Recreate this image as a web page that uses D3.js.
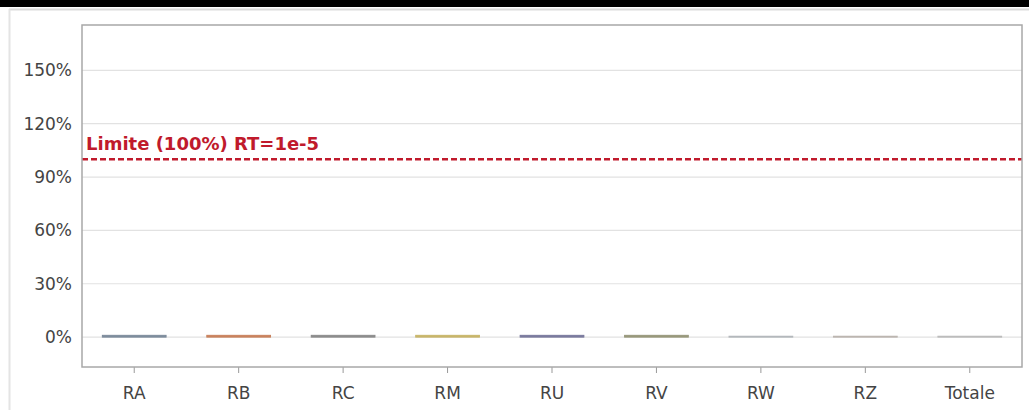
<!DOCTYPE html>
<html>
<head>
<meta charset="utf-8">
<script src="https://cdn.jsdelivr.net/npm/d3@7"></script>
<style>
  body { margin: 0; background: #fff; }
  text { font-family: "DejaVu Sans", sans-serif; }
</style>
</head>
<body>
<div id="chart"></div>
<script>
// chart values
const categories = ["RA", "RB", "RC", "RM", "RU", "RV", "RW", "RZ", "Totale"];
const values = [0.01, 0.01, 0.01, 0.01, 0.01, 0.01, 0.005, 0.005, 0.005];
const barColors = ["#7d8c9c", "#c9825e", "#8c8c8c", "#c8b66a", "#7a7a9e", "#98987c", "#b4b8bc", "#bcb6b0", "#bcbcbc"];
const yTicks = [0, 0.3, 0.6, 0.9, 1.2, 1.5];
const limitValue = 1.0;
const limitLabel = "Limite (100%) RT=1e-5";

const width = 1029, height = 410;
const margin = { top: 25, right: 7, bottom: 43, left: 82 };

const svg = d3.select("#chart").append("svg")
  .attr("width", width)
  .attr("height", height);

// top dark band + outer frame
svg.append("rect").attr("x", 0).attr("y", 0).attr("width", width).attr("height", 7).attr("fill", "#000");
svg.append("line").attr("x1", 9).attr("x2", width).attr("y1", 9.5).attr("y2", 9.5).attr("stroke", "#dcdcdc").attr("stroke-width", 2);
svg.append("line").attr("x1", 9.5).attr("x2", 9.5).attr("y1", 9).attr("y2", height).attr("stroke", "#e4e4e4").attr("stroke-width", 2);

const g = svg.append("g").attr("transform", `translate(${margin.left},${margin.top})`);
const w = width - margin.left - margin.right;
const h = height - margin.top - margin.bottom;

const xScale = d3.scaleBand().domain(categories).range([0, w]).paddingInner(0.39).paddingOuter(0.195);
const xAxisScale = d3.scaleBand().domain(categories).range([0, w]);
const yScale = d3.scaleLinear().domain([-0.168, 1.755]).range([h, 0]);

// gridlines
g.selectAll(".grid")
  .data(yTicks)
  .enter()
  .append("line")
    .attr("x1", 0)
    .attr("x2", w)
    .attr("y1", d => yScale(d))
    .attr("y2", d => yScale(d))
    .attr("stroke", "#e2e2e2")
    .attr("stroke-width", 1.2);

// y axis labels
const yAxis = g.append("g")
  .call(d3.axisLeft(yScale).tickValues(yTicks).tickFormat(d => Math.round(d * 100) + "%").tickSize(0).tickPadding(10));
yAxis.select(".domain").remove();
yAxis.selectAll("text").attr("font-size", "17px").attr("fill", "#444")
  .style("font-family", "'DejaVu Sans', sans-serif");

// bars
g.selectAll(".bar")
  .data(categories)
  .enter()
  .append("rect")
    .attr("x", d => xScale(d))
    .attr("width", xScale.bandwidth())
    .attr("y", (d, i) => yScale(values[i]))
    .attr("height", (d, i) => yScale(0) - yScale(values[i]))
    .attr("fill", (d, i) => barColors[i])
    .attr("stroke", (d, i) => barColors[i])
    .attr("stroke-width", 1);

// limit line
g.append("line")
  .attr("x1", 0)
  .attr("x2", w)
  .attr("y1", yScale(limitValue))
  .attr("y2", yScale(limitValue))
  .attr("stroke", "#c01a2c")
  .attr("stroke-width", 2.5)
  .attr("stroke-dasharray", "6,3");

g.append("text")
  .attr("x", 4)
  .attr("y", yScale(limitValue) - 9)
  .attr("font-size", "18px")
  .attr("font-weight", "bold")
  .attr("fill", "#c01a2c")
  .text(limitLabel);

// x axis
const xAxis = g.append("g")
  .attr("transform", `translate(0,${h})`)
  .call(d3.axisBottom(xAxisScale).tickSize(6).tickSizeOuter(0).tickPadding(14));
xAxis.select(".domain").remove();
xAxis.selectAll("line").attr("stroke", "#999");
xAxis.selectAll("text").attr("font-size", "17px").attr("fill", "#444")
  .style("font-family", "'DejaVu Sans', sans-serif");

// plot frame
g.append("rect")
  .attr("x", 0).attr("y", 0)
  .attr("width", w).attr("height", h)
  .attr("fill", "none")
  .attr("stroke", "#a8a8a8")
  .attr("stroke-width", 1.5);
</script>
</body>
</html>
